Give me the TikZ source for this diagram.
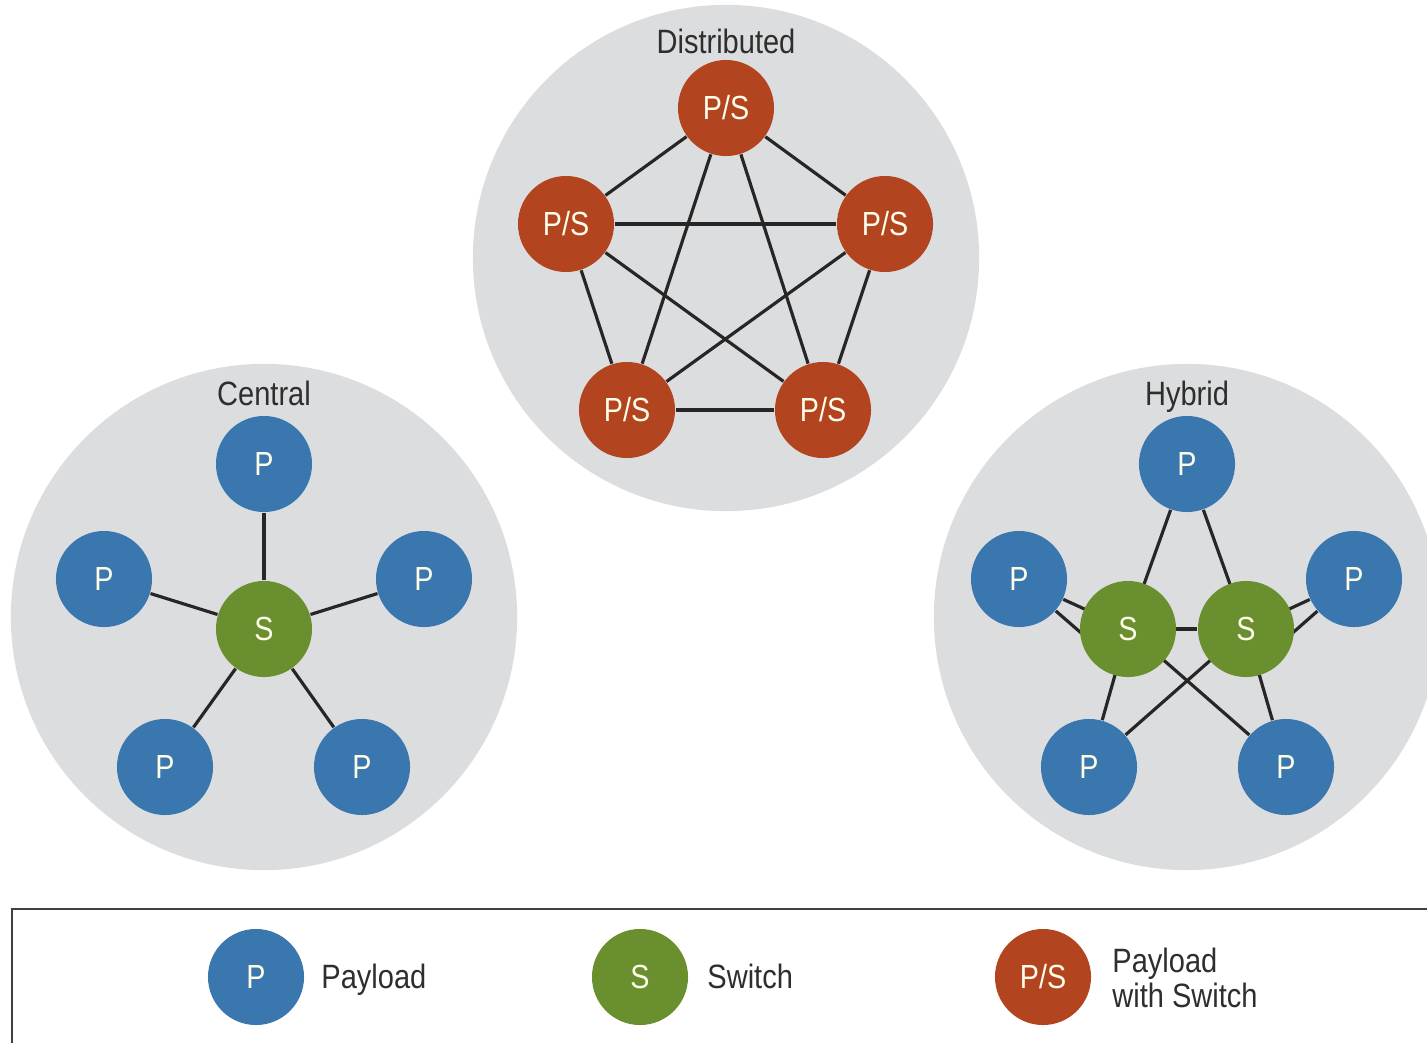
\documentclass[tikz,border=0pt]{standalone}
\usepackage{fontspec}
\setmainfont{Liberation Sans}[FakeStretch=0.86]
\definecolor{bggray}{HTML}{DCDDDF}
\definecolor{pblue}{HTML}{3A77AE}
\definecolor{sgreen}{HTML}{6A8F2E}
\definecolor{psred}{HTML}{B2451F}
\definecolor{txtgray}{HTML}{2E2E2E}
\pgfdeclarelayer{discs}
\pgfdeclarelayer{links}
\pgfsetlayers{discs,links,main}

\begin{document}
\begin{tikzpicture}[x=0.01cm, y=-0.01cm,
    net/.style={circle, fill=bggray, minimum size=5.06cm},
    unit/.style={circle, minimum size=0.96cm, inner sep=0pt, text=white!92!yellow, font=\fontsize{9.5}{11}\selectfont},
    pay/.style={unit, fill=pblue},
    sw/.style={unit, fill=sgreen},
    paysw/.style={unit, fill=psred},
    link/.style={line width=0.9pt, black!85},
    lbl/.style={text=txtgray, font=\fontsize{9.6}{11}\selectfont, align=left}]
    \clip (0,0) rectangle (1427,1042);

    % background discs
    \begin{pgfonlayer}{discs}
    \node [net] (distnet) at (726,258) {};
    \node [net] (centnet) at (264,617) {};
    \node [net] (hybnet) at (1187,617) {};
    \end{pgfonlayer}
    \node [lbl, anchor=base] (distlbl) at (726,53) {Distributed};
    \node [lbl, anchor=base] (centlbl) at (264,405) {Central};
    \node [lbl, anchor=base] (hyblbl) at (1187,405) {Hybrid};

    % distributed
    \node [paysw] (d1) at (726,108) {P/S};
    \node [paysw] (d2) at (885,224) {P/S};
    \node [paysw] (d3) at (823,410) {P/S};
    \node [paysw] (d4) at (627,410) {P/S};
    \node [paysw] (d5) at (566,224) {P/S};

    % central
    \node [sw] (cs) at (264,629) {S};
    \node [pay] (c1) at (264,464) {P};
    \node [pay] (c2) at (424,579) {P};
    \node [pay] (c3) at (362,767) {P};
    \node [pay] (c4) at (165,767) {P};
    \node [pay] (c5) at (104,579) {P};

    % hybrid
    \node [sw] (hs1) at (1128,629) {S};
    \node [sw] (hs2) at (1246,629) {S};
    \node [pay] (h1) at (1187,464) {P};
    \node [pay] (h2) at (1354,579) {P};
    \node [pay] (h3) at (1286,767) {P};
    \node [pay] (h4) at (1089,767) {P};
    \node [pay] (h5) at (1019,579) {P};
    \coordinate (hs1low) at (1110,658);
    \coordinate (hs2low) at (1264,658);

    \begin{pgfonlayer}{links}
    \foreach \a/\b in {d1/d2,d1/d3,d1/d4,d1/d5,d2/d3,d2/d4,d2/d5,d3/d4,d3/d5,d4/d5}
        \draw [link] (\a) -- (\b);
    \foreach \a in {c1,c2,c3,c4,c5}
        \draw [link] (cs) -- (\a);
    \foreach \a/\b in {hs1/hs2,hs1/h1,hs2/h1,hs1/h4,hs2/h4,hs1/h3,hs2/h3,hs1/h5,hs2/h2}
        \draw [link] (\a.center) -- (\b);
    \draw [link] (h5) -- (hs1low);
    \draw [link] (h2) -- (hs2low);
    \end{pgfonlayer}

    % legend
    \draw [line width=0.8pt, black!75] (12,1060) -- (12,909) -- (1440,909);
    \node [pay] (keyp) at (256,977) {P};
    \node [lbl, anchor=base west] (keyptxt) at (309,988) {Payload};
    \node [sw] (keys) at (640,977) {S};
    \node [lbl, anchor=base west] (keystxt) at (695,988) {Switch};
    \node [paysw] (keyps) at (1043,977) {P/S};
    \node [lbl, anchor=west] (keypstxt) at (1100,978) {Payload\\[-1pt]with Switch};
\end{tikzpicture}
\end{document}
